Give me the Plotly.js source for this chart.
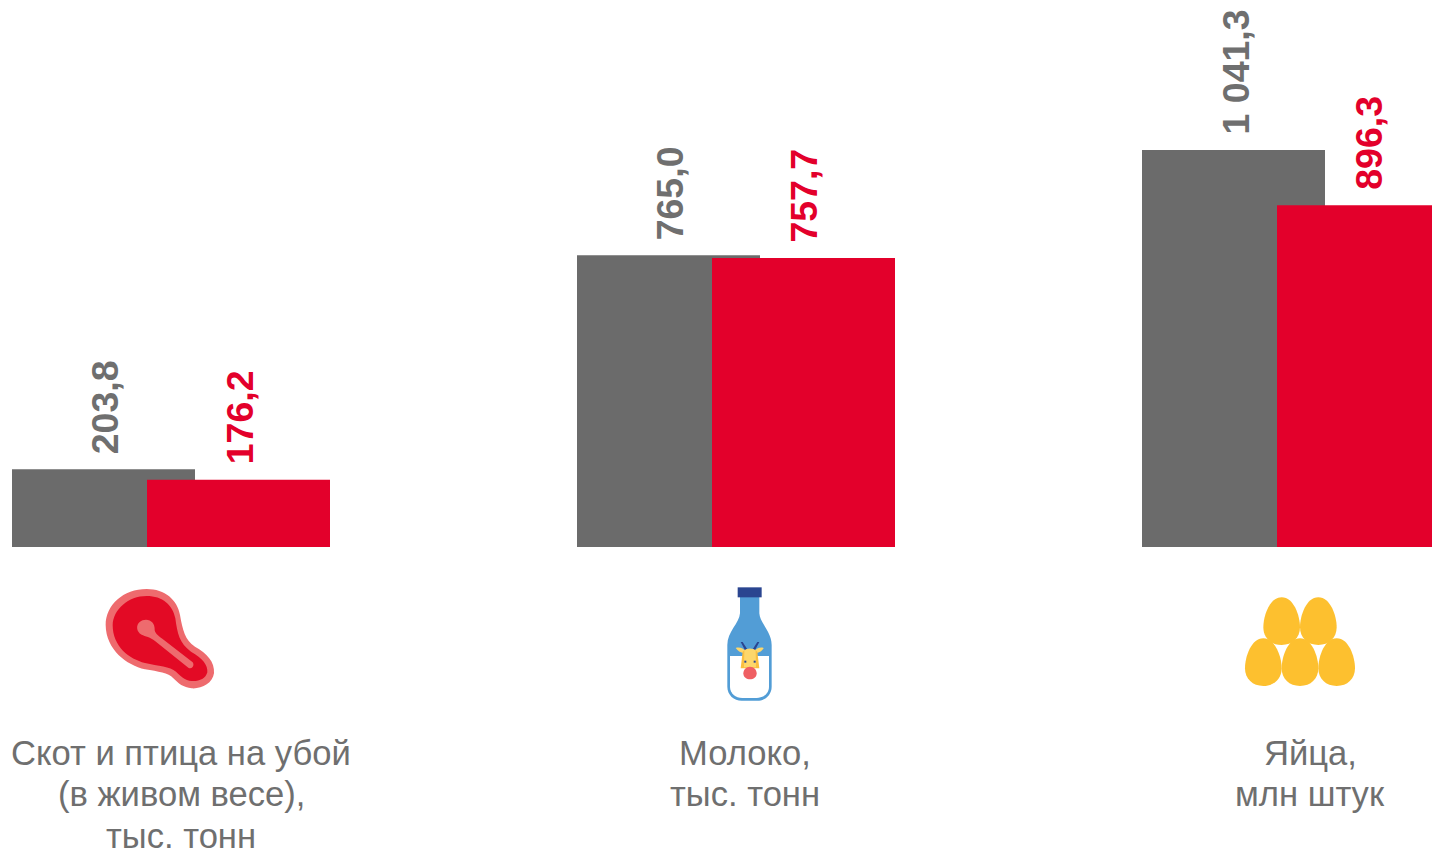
<!DOCTYPE html>
<html><head><meta charset="utf-8">
<script src="https://cdn.plot.ly/plotly-3.0.1.min.js"></script>
<style>html,body{margin:0;padding:0;background:#fff;overflow:hidden}#c{width:1432px;height:851px}</style>
</head><body><div id="c"></div>
<script>
const categories = ["Скот и птица на убой<br>(в живом весе),<br>тыс. тонн", "Молоко,<br>тыс. тонн", "Яйца,<br>млн штук"];
const previousValues = [203.8, 765.0, 1041.3];
const currentValues = [176.2, 757.7, 896.3];
const previousLabels = ["203,8", "765,0", "1 041,3"];
const currentLabels = ["176,2", "757,7", "896,3"];
const GRAY = "#6b6b6b", RED = "#e3002b", TEXTGRAY = "#6f6f6f";
const W = 1432, H = 851;

// Converts an icon path drawn in 3x crop coordinates to paper coordinates
function icon(d, ox, oy, fill) {
  let isX = true;
  const path = d.replace(/-?\d+(\.\d+)?/g, n => {
    const v = parseFloat(n) / 3;
    const r = isX ? (ox + v) / W : 1 - (oy + v) / H;
    isX = !isX;
    return r.toFixed(5);
  });
  return {type: "path", xref: "paper", yref: "paper", path, fillcolor: fill, line: {width: 0}, layer: "above"};
}
function egg(cx, t) {
  const p = (a, b) => (cx + a) + " " + (t + b);
  return "M " + p(0,0) + " C " + p(36,0) + " " + p(55,55) + " " + p(55,90) + " C " + p(55,122) + " " + p(32,143) + " " + p(0,143) +
         " C " + p(-32,143) + " " + p(-55,122) + " " + p(-55,90) + " C " + p(-55,55) + " " + p(-36,0) + " " + p(0,0) + " Z";
}

const meatO = [90, 575], milkO = [700, 580], eggO = [1230, 585];
const shapes = [
  icon("M 170 42 C 225 42 262 75 270 120 C 278 165 285 195 315 215 C 350 235 375 260 372 295 C 368 325 335 342 305 340 C 280 338 265 325 250 310 C 235 293 205 290 165 283 C 110 270 48 225 47 150 C 47 90 100 42 170 42 Z", ...meatO, "#ee6b6e"),
  icon("M 170 63 C 218 63 248 90 256 130 C 262 175 268 205 303 230 C 338 250 354 270 352 292 C 347 312 325 320 305 318 C 285 316 270 302 258 290 C 240 274 205 274 165 264 C 118 252 68 215 68 150 C 70 103 115 63 170 63 Z", ...meatO, "#e30a25"),
  icon("M 168 134 C 184 134 195 147 194 164 C 194 172 202 180 217 191 L 308 262 C 315 272 305 285 295 278 L 195 198 C 182 186 165 184 155 179 C 138 170 138 150 149 141 C 155 136 160 134 168 134 Z", ...meatO, "#ee6b6e"),

  icon("M 120 50 L 178 50 L 178 100 C 180 130 215 155 215 195 L 215 320 C 215 345 195 362 172 362 L 125 362 C 102 362 82 345 82 320 L 82 195 C 82 155 118 130 120 100 Z", ...milkO, "#529dd6"),
  icon("M 90 228 L 207 228 L 207 320 C 207 340 190 354 170 354 L 127 354 C 107 354 90 340 90 320 Z", ...milkO, "#ffffff"),
  icon("M 113 22 L 185 22 L 185 52 L 113 52 Z", ...milkO, "#2a4590"),
  icon("M 122 186 L 128 186 L 142 208 L 136 212 Z", ...milkO, "#2a4590"),
  icon("M 178 186 L 172 186 L 158 208 L 164 212 Z", ...milkO, "#2a4590"),
  icon("M 107 204 C 118 200 130 205 138 214 L 132 220 C 122 218 112 212 107 204 Z", ...milkO, "#fdd76b"),
  icon("M 191 204 C 180 200 170 205 162 214 L 168 220 C 178 218 188 212 191 204 Z", ...milkO, "#fdd76b"),
  icon("M 128 215 C 135 205 165 205 172 215 L 178 265 L 122 265 Z", ...milkO, "#fbbf3f"),
  icon("M 133 212 C 140 203 160 203 167 212 L 168 262 L 132 262 Z", ...milkO, "#fdd76b"),
  icon("M 150 260 C 162 260 170 270 170 280 C 170 292 160 298 150 298 C 140 298 130 292 130 280 C 130 270 138 260 150 260 Z", ...milkO, "#ef5f63"),
  icon("M 133 242 L 139 242 L 139 248 L 133 248 Z", ...milkO, "#2a4590"),
  icon("M 161 242 L 167 242 L 167 248 L 161 248 Z", ...milkO, "#2a4590"),

  icon(egg(155, 37), ...eggO, "#fdc02f"),
  icon(egg(265, 37), ...eggO, "#fdc02f"),
  icon(egg(100, 160), ...eggO, "#fdc02f"),
  icon(egg(210, 160), ...eggO, "#fdc02f"),
  icon(egg(320, 160), ...eggO, "#fdc02f"),
];

const pxPerCat = 565, barW = 183 / pxPerCat;
const xZero = 171, shiftGray = -67.5, shiftRed = 67.5;
const traces = [
  {type: "bar", name: "prev", x: categories, y: previousValues, width: barW, offset: (shiftGray - 91.5) / pxPerCat, marker: {color: GRAY, line: {width: 0}}, hoverinfo: "skip"},
  {type: "bar", name: "curr", x: categories, y: currentValues, width: barW, offset: (shiftRed - 91.5) / pxPerCat, marker: {color: RED, line: {width: 0}}, hoverinfo: "skip"},
];
const valueFont = c => ({family: "Liberation Sans, Arial, sans-serif", size: 37.5, color: c, weight: 700});
const annotations = [];
const lineY = [753, 794, 836], labelShift = [10, 9, 9];
categories.forEach((c, i) => {
  annotations.push({x: c, y: previousValues[i], xref: "x", yref: "y", text: "<b>" + previousLabels[i] + "</b>", textangle: -90, showarrow: false,
    xanchor: "center", yanchor: "bottom", xshift: shiftGray + 1.5, yshift: 13, font: valueFont(TEXTGRAY)});
  annotations.push({x: c, y: currentValues[i], xref: "x", yref: "y", text: "<b>" + currentLabels[i] + "</b>", textangle: -90, showarrow: false,
    xanchor: "center", yanchor: "bottom", xshift: shiftRed + 1, yshift: 13, font: valueFont(RED)});
  c.split("<br>").forEach((line, k) => {
    annotations.push({x: c, y: 1 - lineY[k] / H, xref: "x", yref: "paper", text: line, showarrow: false, align: "center",
      xanchor: "center", yanchor: "middle", xshift: labelShift[i], font: {family: "Liberation Sans, Arial, sans-serif", size: 34.6, color: TEXTGRAY}});
  });
});

const yScale = 397 / 1041.3;
Plotly.newPlot("c", traces, {
  width: W, height: H, margin: {l: 0, r: 0, t: 0, b: 0, pad: 0},
  paper_bgcolor: "#fff", plot_bgcolor: "#fff", showlegend: false, barmode: "overlay",
  xaxis: {type: "category", visible: false, range: [-xZero / pxPerCat, (W - xZero) / pxPerCat], fixedrange: true},
  yaxis: {visible: false, range: [-(H - 547) / yScale, 547 / yScale], fixedrange: true},
  shapes, annotations
}, {displayModeBar: false, staticPlot: true});
</script></body></html>
